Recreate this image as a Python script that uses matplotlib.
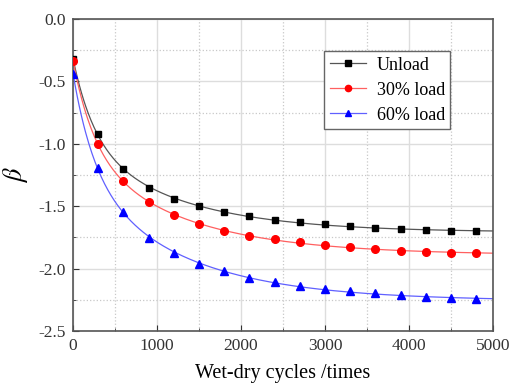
import numpy as np
import matplotlib.pyplot as plt
from matplotlib.ticker import MultipleLocator

cycles = [0, 300, 600, 900, 1200, 1500, 1800, 2100, 2400, 2700, 3000,
          3300, 3600, 3900, 4200, 4500, 4800]
unload = [-0.32, -0.92, -1.20, -1.355, -1.44, -1.50, -1.55, -1.58, -1.61,
          -1.63, -1.645, -1.656, -1.675, -1.685, -1.69, -1.696, -1.70]
load30 = [-0.337, -0.998, -1.30, -1.47, -1.573, -1.645, -1.70, -1.736, -1.766,
          -1.79, -1.81, -1.827, -1.843, -1.857, -1.865, -1.872, -1.878]
load60 = [-0.44, -1.19, -1.55, -1.755, -1.875, -1.966, -2.022, -2.073, -2.11,
          -2.137, -2.164, -2.177, -2.199, -2.215, -2.231, -2.236, -2.245]

plt.rcParams["font.family"] = ["Liberation Serif", "DejaVu Serif"]
plt.rcParams["mathtext.fontset"] = "stix"


def basis(x):
    x = np.asarray(x, dtype=float)
    return np.column_stack([np.ones_like(x), np.exp(-x / 250), np.exp(-x / 1200), x / 5000])


def fit_curve(x, y, xs):
    coef, *_ = np.linalg.lstsq(basis(x), np.asarray(y), rcond=None)
    return basis(xs) @ coef


fig = plt.figure(figsize=(5.09, 3.85), dpi=100)
ax = fig.add_axes([0.1434, 0.1403, 0.8252, 0.8103])

xs = np.linspace(0, 5000, 400)
series = [
    ("Unload", unload, "black", "#555555", "s", 5),
    ("30% load", load30, "red", "#ff6060", "o", 5.5),
    ("60% load", load60, "blue", "#6060ff", "^", 6),
]
for label, vals, mc, lc, mk, ms in series:
    ax.plot(xs, fit_curve(cycles, vals, xs), color=lc, lw=0.9, zorder=2)
    ax.plot(cycles, vals, ls="none", marker=mk, color=mc, ms=ms, zorder=3)
    ax.plot([], [], color=lc, lw=0.9, marker=mk, mfc=mc, mec=mc, ms=ms - 1, label=label)

ax.set_xlim(0, 5000)
ax.set_ylim(-2.5, 0.0)
ax.xaxis.set_major_locator(MultipleLocator(1000))
ax.xaxis.set_minor_locator(MultipleLocator(500))
ax.yaxis.set_major_locator(MultipleLocator(0.5))
ax.yaxis.set_minor_locator(MultipleLocator(0.25))
ax.yaxis.set_major_formatter(plt.FuncFormatter(lambda v, p: f"{v:.1f}"))

ax.grid(which="major", color="#dddddd", lw=1.0, ls="-", zorder=0)
ax.grid(which="minor", color="#c8c8c8", lw=0.9, ls=":", zorder=0)
ax.set_axisbelow(True)

ax.tick_params(which="both", direction="in", labelsize=12.5, colors="#333333")
ax.tick_params(which="major", length=4)
ax.tick_params(which="minor", length=2.5)
ax.tick_params(axis="x", pad=5)
ax.tick_params(axis="y", pad=5)
for s in ax.spines.values():
    s.set_color("#555555")
    s.set_linewidth(1.2)

ax.set_xlabel("Wet-dry cycles /times", fontsize=14.5, labelpad=7)
ax.set_ylabel(r"$\beta$", fontsize=19, labelpad=6)

leg = ax.legend(loc="upper right", bbox_to_anchor=(0.898, 0.897), fontsize=13,
                fancybox=False, edgecolor="#666666", framealpha=1,
                handlelength=2.0, borderpad=0.3, labelspacing=0.45,
                handletextpad=0.6, borderaxespad=0)
leg.get_frame().set_linewidth(1.0)

fig.savefig("out.png", dpi=100)
